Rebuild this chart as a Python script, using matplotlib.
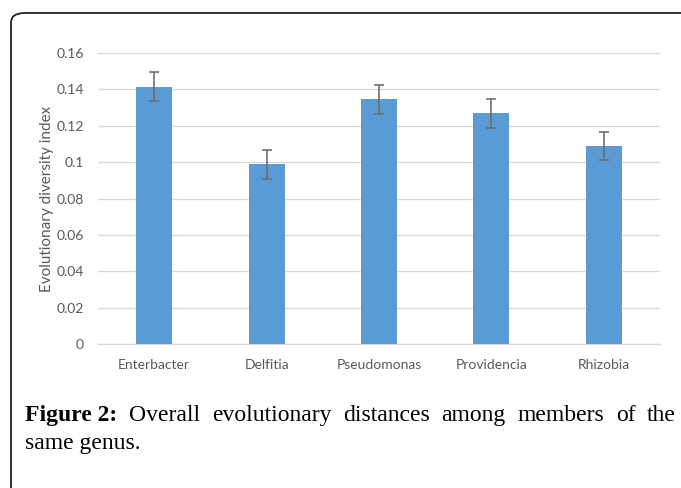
import matplotlib
matplotlib.use("Agg")
import matplotlib.pyplot as plt
from matplotlib.patches import FancyBboxPatch

categories = ["Enterbacter", "Delfitia", "Pseudomonas", "Providencia", "Rhizobia"]
values = [0.1415, 0.0989, 0.1346, 0.1269, 0.1088]
errors = [0.0081, 0.0080, 0.0080, 0.0080, 0.0079]
yticks = [0, 0.02, 0.04, 0.06, 0.08, 0.1, 0.12, 0.14, 0.16]
ytick_labels = ["0", "0.02", "0.04", "0.06", "0.08", "0.1", "0.12", "0.14", "0.16"]
ylabel = "Evolutionary diversity index"
caption_bold = "Figure 2:"
caption_line1 = "Overall evolutionary distances among members of the"
caption_line2 = "same genus."

W, H = 681, 488
fig = plt.figure(figsize=(W / 100, H / 100), dpi=100)

border = FancyBboxPatch((11 / W, -0.1), 1.2, (H - 13) / H + 0.1,
                        boxstyle="round,pad=0,rounding_size=0.02",
                        transform=fig.transFigure, fill=False,
                        edgecolor="#222222", linewidth=1.3, clip_on=False)
fig.add_artist(border)

ax = fig.add_axes([98 / W, 1 - 344 / H, (660 - 98) / W, (344 - 53) / H])
x = list(range(len(categories)))
ax.bar(x, values, width=0.32, color="#5B9BD5", zorder=3)
ax.errorbar(x, values, yerr=errors, fmt="none", ecolor="#6E6E6E",
            elinewidth=1.2, capsize=3.5, capthick=1.2, zorder=4)
ax.set_xlim(-0.5, len(categories) - 0.5)
ax.set_ylim(0, 0.16)
ax.set_yticks(yticks)
ax.set_yticklabels(ytick_labels)
ax.set_xticks(x)
ax.set_xticklabels(categories)
ax.yaxis.grid(True, color="#D9D9D9", linewidth=1.0, zorder=0)
ax.set_axisbelow(True)
for s in ["top", "right", "left"]:
    ax.spines[s].set_visible(False)
ax.spines["bottom"].set_color("#D9D9D9")
ax.spines["bottom"].set_linewidth(1.0)
ax.tick_params(axis="both", length=0, labelsize=10, labelcolor="#595959")
ax.tick_params(axis="y", pad=10)
ax.tick_params(axis="x", pad=11)
for lab in ax.get_xticklabels() + ax.get_yticklabels():
    lab.set_family("Lato")
ax.set_ylabel(ylabel, fontsize=11, color="#595959", family="Lato", labelpad=2)

fig.canvas.draw()
renderer = fig.canvas.get_renderer()
cap_fs = 17
left_px, right_px = 25, 676
y1 = 1 - 421 / H
y2 = 1 - 449 / H
words = [(caption_bold, "bold")] + [(w, "normal") for w in caption_line1.split()]
texts = []
total = 0
for w, wt in words:
    t = fig.text(0, y1, w, fontsize=cap_fs, family="Liberation Serif", weight=wt,
                 color="#000000", va="baseline")
    bb = t.get_window_extent(renderer)
    texts.append((t, bb.width))
    total += bb.width
gap = ((right_px - left_px) - total) / (len(words) - 1)
cur = left_px
for t, wdt in texts:
    t.set_x(cur / W)
    cur += wdt + gap
fig.text(left_px / W, y2, caption_line2, fontsize=cap_fs, family="Liberation Serif",
         color="#000000", va="baseline")

fig.savefig("out.png", dpi=100)
